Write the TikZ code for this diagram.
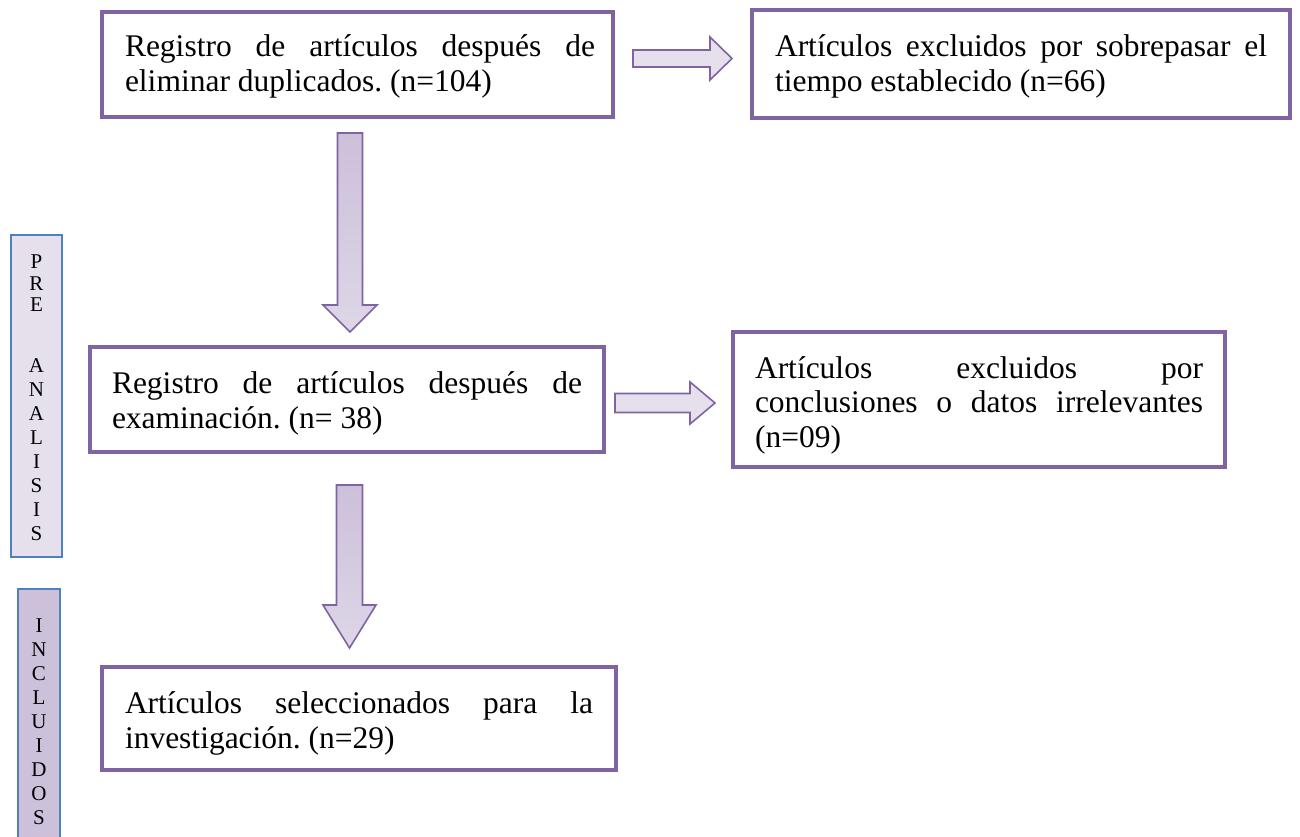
\documentclass[tikz,border=0pt]{standalone}
\usepackage{fontspec}
\setmainfont{Liberation Serif}
\definecolor{boxpurple}{HTML}{8064A2}
\definecolor{lav}{HTML}{E5E0EC}
\definecolor{lavdark}{HTML}{CCC0DA}
\definecolor{sideblue}{HTML}{4F81BD}
\frenchspacing
\begin{document}
\begin{tikzpicture}[x=1pt,y=-1pt,
  flowbox/.style={draw=boxpurple, line width=4.5pt, fill=white, rectangle, inner sep=0pt},
  sidebox/.style={draw=sideblue, line width=1.8pt, rectangle, inner sep=0pt},
  txt/.style={inner sep=0pt, outer sep=0pt, anchor=base west, font=\fontsize{31.5}{35}\selectfont},
  letter/.style={inner sep=0pt, font=\fontsize{21}{24}\selectfont},
  downarrow/.style={draw=boxpurple, line width=1.6pt, line join=miter, top color=lavdark, bottom color=lav!70!lavdark},
  rightarrow/.style={draw=boxpurple, line width=1.6pt, line join=miter, fill=lav}]
\useasboundingbox (0,0) rectangle (1300,837);
\clip (0,0) rectangle (1300,837);
\fill[white] (0,0) rectangle (1300,837);

% side labels
\node[sidebox, fill=lav, minimum width=51pt, minimum height=322pt] (pre) at (36.5,396) {};
\node[sidebox, fill=lavdark, minimum width=42pt, minimum height=261pt] (incl) at (39,719.5) {};
\foreach \l/\y [count=\i] in {P/262,R/284,E/305,A/366,N/390,A/414,L/438,I/462,S/486,I/510,S/534}
  \node[letter] (pl\i) at (36.5,\y) {\l};
\foreach \l/\y [count=\i] in {I/626,N/650,C/674,L/698,U/722,I/746,D/770,O/794,S/818}
  \node[letter] (il\i) at (39,\y) {\l};

% boxes
\node[flowbox, minimum width=511pt, minimum height=105pt] (b1) at (357.5,64.5) {};
\node[flowbox, minimum width=538pt, minimum height=108pt] (b2) at (1021,64) {};
\node[flowbox, minimum width=514pt, minimum height=105pt] (b3) at (347,399.5) {};
\node[flowbox, minimum width=492pt, minimum height=135pt] (b4) at (979,399.5) {};
\node[flowbox, minimum width=514pt, minimum height=103pt] (b5) at (359,718.5) {};

% texts
\node[txt] (t1a) at (125,57) {\makebox[470pt][s]{Registro de artículos después de}};
\node[txt] (t1b) at (125,92) {eliminar duplicados. (n=104)};
\node[txt] (t2a) at (775,57) {\makebox[492pt][s]{Artículos excluidos por sobrepasar el}};
\node[txt] (t2b) at (775,92) {tiempo establecido (n=66)};
\node[txt] (t3a) at (112,393) {\makebox[470pt][s]{Registro de artículos después de}};
\node[txt] (t3b) at (112,428) {examinación. (n= 38)};
\node[txt] (t4a) at (755,378) {\makebox[448pt][s]{Artículos excluidos por}};
\node[txt] (t4b) at (755,412) {\makebox[448pt][s]{conclusiones o datos irrelevantes}};
\node[txt] (t4c) at (755,447) {(n=09)};
\node[txt] (t5a) at (125,713) {\makebox[468pt][s]{Artículos seleccionados para la}};
\node[txt] (t5b) at (125,748) {investigación. (n=29)};

% block arrows
\draw[downarrow] (337.5,133) -- (362.5,133) -- (362.5,305) -- (377,305) -- (350,332)
  -- (323,305) -- (337.5,305) -- cycle;
\draw[downarrow] (336.5,485) -- (362.5,485) -- (362.5,605) -- (376,605) -- (349.5,648)
  -- (323,605) -- (336.5,605) -- cycle;
\draw[rightarrow] (633,50) -- (710,50) -- (710,37) -- (732,58.5) -- (710,80)
  -- (710,67) -- (633,67) -- cycle;
\draw[rightarrow] (615,393.5) -- (690,393.5) -- (690,382) -- (715,403) -- (690,424)
  -- (690,412.5) -- (615,412.5) -- cycle;
\end{tikzpicture}
\end{document}
